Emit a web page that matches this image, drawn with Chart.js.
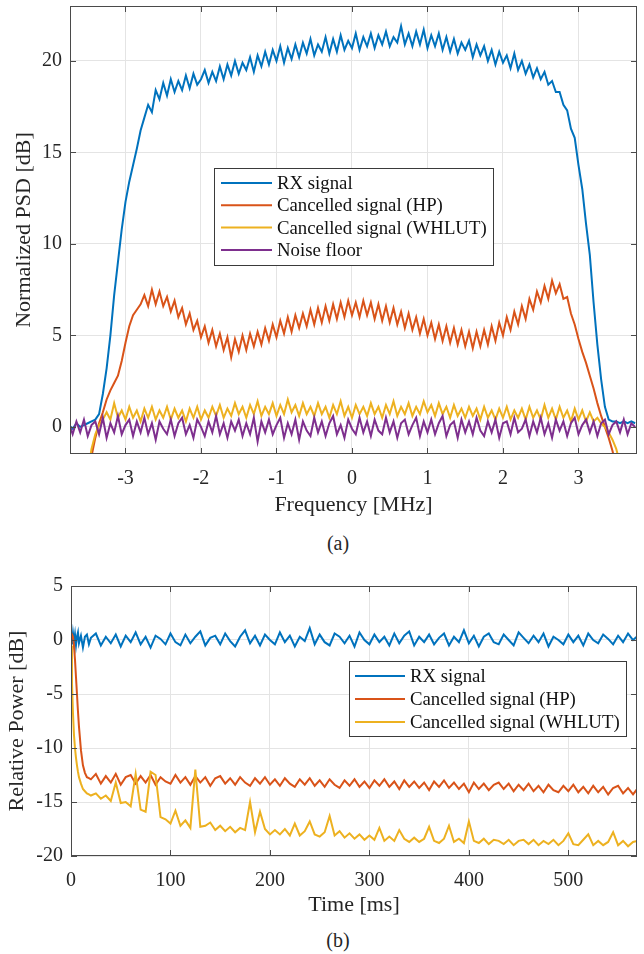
<!DOCTYPE html>
<html>
<head>
<meta charset="utf-8">
<script src="https://cdn.jsdelivr.net/npm/chart.js@4.4.0/dist/chart.umd.min.js"></script>
<style>
  html, body { margin: 0; padding: 0; background: #fff; }
  body { width: 644px; height: 954px; position: relative; overflow: hidden; font-family: "Liberation Serif", "Times New Roman", serif; }
  canvas { position: absolute; left: 0; }
  #psd-chart { top: 0; }
  #power-chart { top: 570px; }
  .caption { position: absolute; left: 308px; width: 60px; text-align: center; font-size: 20px; line-height: 24px; color: #262626; }
</style>
</head>
<body>
<canvas id="psd-chart" width="644" height="520"></canvas>
<div class="caption" style="top: 531px;">(a)</div>
<canvas id="power-chart" width="644" height="350"></canvas>
<div class="caption" style="top: 928px;">(b)</div>

<script>
// (a) PSD vs frequency
const FREQ = [
  -3.75,-3.70,-3.65,-3.60,-3.55,-3.50,-3.45,-3.40,-3.35,-3.30,
  -3.25,-3.20,-3.15,-3.10,-3.05,-3.00,-2.95,-2.90,-2.85,-2.80,
  -2.75,-2.70,-2.65,-2.60,-2.55,-2.50,-2.45,-2.40,-2.35,-2.30,
  -2.25,-2.20,-2.15,-2.10,-2.05,-2.00,-1.95,-1.90,-1.85,-1.80,
  -1.75,-1.70,-1.65,-1.60,-1.55,-1.50,-1.45,-1.40,-1.35,-1.30,
  -1.25,-1.20,-1.15,-1.10,-1.05,-1.00,-0.95,-0.90,-0.85,-0.80,
  -0.75,-0.70,-0.65,-0.60,-0.55,-0.50,-0.45,-0.40,-0.35,-0.30,
  -0.25,-0.20,-0.15,-0.10,-0.05,0.00,0.05,0.10,0.15,0.20,
  0.25,0.30,0.35,0.40,0.45,0.50,0.55,0.60,0.65,0.70,
  0.75,0.80,0.85,0.90,0.95,1.00,1.05,1.10,1.15,1.20,
  1.25,1.30,1.35,1.40,1.45,1.50,1.55,1.60,1.65,1.70,
  1.75,1.80,1.85,1.90,1.95,2.00,2.05,2.10,2.15,2.20,
  2.25,2.30,2.35,2.40,2.45,2.50,2.55,2.60,2.65,2.70,
  2.75,2.80,2.85,2.90,2.95,3.00,3.05,3.10,3.15,3.20,
  3.25,3.30,3.35,3.40,3.45,3.50,3.55,3.60,3.65,3.70,
  3.75
];
const PSD_RX = [
  0.1,-0.1,0.2,0.0,0.1,0.2,0.3,0.4,0.7,1.8,
  3.2,5.0,7.2,9.0,10.8,12.3,13.4,14.3,15.2,16.2,
  16.9,17.6,17.2,18.4,17.9,18.8,18.1,19.0,18.3,18.9,
  18.4,19.2,18.5,19.3,18.7,19.0,19.5,18.8,19.4,18.9,
  19.7,19.0,19.8,19.2,20.0,19.3,19.9,19.5,20.2,19.4,
  20.3,19.7,20.5,19.8,20.6,20.0,20.8,19.9,20.7,20.1,
  20.9,20.2,21.0,20.4,21.2,20.3,20.9,20.5,21.3,20.4,
  21.2,20.5,21.4,20.6,21.1,20.7,21.5,20.6,21.3,20.8,
  21.5,20.7,21.4,20.9,21.6,20.8,21.3,21.0,21.9,20.9,
  21.5,20.8,21.6,20.9,21.7,20.7,21.4,20.8,21.5,20.6,
  21.3,20.5,21.2,20.4,21.0,20.6,21.1,20.2,20.9,20.3,
  20.8,20.0,20.6,19.8,20.5,19.9,20.3,19.6,20.4,19.5,
  20.0,19.3,19.8,19.1,19.6,19.0,19.4,18.7,18.9,18.3,
  18.3,17.6,17.3,16.3,15.8,14.3,13.0,11.1,9.4,6.8,
  4.5,2.6,1.1,0.4,0.3,0.3,0.2,0.3,0.2,0.3,
  0.2
];
const PSD_HP = [
  -3.5,-3.5,-3.5,-3.5,-3.5,-3.5,-1.6,-0.6,0.2,0.8,
  1.5,2.0,2.4,2.8,3.6,4.6,5.5,6.1,6.4,6.7,
  7.2,6.6,7.5,6.7,7.4,6.6,7.1,6.3,6.9,6.0,
  6.5,5.6,6.2,5.3,5.8,4.9,5.5,4.6,5.3,4.4,
  5.1,4.2,4.9,3.8,4.8,4.1,5.0,4.2,5.1,4.4,
  5.2,4.5,5.4,4.7,5.6,4.9,5.8,5.1,6.0,5.2,
  6.1,5.4,6.2,5.5,6.4,5.6,6.5,5.7,6.6,5.8,
  6.7,5.9,6.8,6.0,6.9,6.1,6.8,6.0,6.9,6.1,
  6.8,5.9,6.7,5.8,6.6,5.7,6.5,5.6,6.3,5.4,
  6.2,5.3,6.0,5.1,5.9,5.0,5.7,4.8,5.6,4.7,
  5.5,4.6,5.4,4.5,5.3,4.4,5.2,4.3,5.2,4.4,
  5.3,4.5,5.5,4.7,5.7,5.0,6.0,5.3,6.3,5.6,
  6.6,5.9,7.0,6.4,7.4,6.8,7.7,7.0,8.0,7.3,
  7.8,7.0,7.1,6.2,5.6,4.8,4.1,3.5,2.8,2.1,
  1.3,0.6,0.0,-0.6,-1.3,-2.2,-3.5,-3.5,-3.5,-3.5,
  -3.5
];
const PSD_WHLUT = [
  -3.5,-3.5,-3.5,-3.5,-3.5,-2.5,-1.2,-0.4,0.1,0.4,
  0.8,0.4,1.3,0.5,0.9,0.4,1.1,0.5,0.9,0.3,
  1.0,0.5,1.1,0.4,0.9,0.5,1.1,0.4,1.0,0.5,
  0.9,0.3,1.0,0.5,1.1,0.4,0.9,0.5,1.1,0.6,
  1.2,0.5,1.0,0.6,1.3,0.7,1.1,0.5,1.2,0.7,
  1.4,0.6,1.1,0.7,1.3,0.6,1.2,0.7,1.5,0.8,
  1.2,0.6,1.3,0.7,1.1,0.6,1.3,0.7,1.1,0.5,
  1.2,0.7,1.4,0.6,1.1,0.5,1.2,0.7,1.1,0.6,
  1.3,0.7,1.1,0.5,1.2,0.7,1.4,0.6,1.1,0.7,
  1.3,0.6,1.1,0.7,1.4,0.8,1.2,0.6,1.3,0.7,
  1.1,0.5,1.2,0.6,1.0,0.5,1.1,0.6,1.0,0.4,
  1.1,0.5,0.9,0.4,1.0,0.5,1.1,0.4,0.9,0.5,
  1.0,0.4,1.1,0.5,0.9,0.4,1.2,0.5,1.0,0.4,
  1.1,0.5,0.9,0.3,1.0,0.4,0.9,0.3,0.8,0.3,
  0.5,0.2,0.0,-0.3,-0.7,-1.2,-2.0,-3.5,-3.5,-3.5,
  -3.5
];
const PSD_NOISE = [
  0.2,-0.4,0.3,-0.3,0.4,-0.5,0.1,0.3,-0.4,0.5,
  -0.6,0.2,-0.3,0.6,-0.4,0.1,0.4,-0.5,0.3,-0.3,
  0.5,-0.4,0.2,-0.7,0.3,-0.1,-0.4,0.4,-0.5,0.2,
  0.5,-0.4,0.1,-0.6,0.4,0.0,-0.5,0.3,-0.3,0.6,
  -0.4,0.2,-0.6,0.3,-0.2,0.4,-0.5,0.2,-0.4,0.5,
  -0.8,0.3,-0.3,0.4,-0.4,0.1,0.5,-0.6,0.2,-0.4,
  0.4,-0.7,0.3,-0.2,-0.5,0.5,-0.3,0.3,-0.5,0.2,
  0.6,-0.4,0.1,-0.6,0.4,-0.1,-0.4,0.5,-0.3,0.3,
  -0.5,0.4,-0.2,-0.4,0.5,-0.3,0.3,-0.6,0.2,0.4,
  -0.4,0.1,0.5,-0.5,0.3,-0.3,0.4,-0.4,0.2,0.6,
  -0.5,0.1,0.3,-0.6,0.4,-0.3,0.3,-0.4,0.5,-0.2,
  -0.5,0.3,-0.3,0.4,-0.6,0.2,0.3,-0.4,0.5,-0.3,
  -0.1,0.4,-0.5,0.3,-0.3,0.5,-0.4,0.2,-0.6,0.4,
  -0.2,0.3,-0.5,0.2,0.5,-0.4,0.1,0.4,-0.3,0.3,
  -0.5,0.2,0.4,-0.4,0.1,0.3,-0.3,0.4,-0.4,0.2,
  0.0
];
const FREQ_TICKS = [-3, -2, -1, 0, 1, 2, 3];
const PSD_TICKS = [0, 5, 10, 15, 20];

// (b) relative power vs time
const TIME = [
  0,1,2,3,4,5,6,7,8,10,12,14,16,18,
  20,25,30,35,40,45,50,55,60,65,
  70,75,80,85,90,95,100,105,110,115,
  120,125,130,135,140,145,150,155,160,165,
  170,175,180,185,190,195,200,205,210,215,
  220,225,230,235,240,245,250,255,260,265,
  270,275,280,285,290,295,300,305,310,315,
  320,325,330,335,340,345,350,355,360,365,
  370,375,380,385,390,395,400,405,410,415,
  420,425,430,435,440,445,450,455,460,465,
  470,475,480,485,490,495,500,505,510,515,
  520,525,530,535,540,545,550,555,560,565,
  570
];
const POW_RX = [
  0.4,-0.4,0.6,-0.2,0.5,-0.5,0.3,0.7,-0.3,0.4,-0.7,0.3,0.5,-0.4,
  0.2,0.6,-0.5,0.3,-0.3,0.5,-0.6,0.4,-0.2,0.7,
  -0.4,0.3,-0.7,0.4,0.1,-0.4,0.6,-0.2,-0.5,0.5,
  -0.3,0.3,0.8,-0.5,0.2,0.4,-0.4,0.6,-0.1,-0.6,
  0.3,0.9,-0.3,0.4,-0.5,0.5,0.0,-0.4,0.7,-0.2,
  0.4,-0.6,0.3,-0.1,1.1,-0.4,0.5,-0.2,-0.5,0.6,
  0.3,-0.3,0.4,-0.6,0.7,0.0,-0.4,0.5,-0.2,0.3,
  -0.5,0.6,-0.3,0.4,0.8,-0.5,0.3,-0.2,0.5,-0.4,
  0.2,0.6,-0.5,0.3,-0.2,0.9,-0.3,0.4,-0.6,0.3,
  0.6,-0.2,-0.4,0.5,0.0,-0.5,0.7,0.2,-0.3,0.4,
  -0.2,0.6,-0.6,0.3,0.0,-0.4,0.5,-0.2,0.4,-0.5,
  0.6,0.0,-0.3,0.5,0.1,-0.4,0.4,-0.2,0.6,0.0,
  0.4
];
const POW_HP = [
  0.2,0.5,0.3,-0.5,-1.8,-3.4,-5.0,-6.6,-8.0,-10.2,-11.6,-12.3,-12.7,-12.8,
  -12.9,-12.4,-13.3,-12.6,-13.2,-12.4,-13.4,-12.7,-12.5,-13.3,
  -12.6,-13.2,-12.5,-13.4,-12.7,-13.1,-13.3,-12.5,-13.2,-12.7,
  -13.4,-12.6,-13.2,-12.7,-13.5,-12.8,-12.6,-13.3,-12.8,-13.4,
  -12.7,-13.2,-13.5,-12.8,-13.3,-12.7,-13.4,-12.9,-13.5,-12.8,
  -13.3,-13.6,-12.9,-13.4,-12.8,-13.5,-13.0,-13.6,-12.9,-13.4,
  -13.7,-13.0,-13.5,-12.9,-13.6,-13.1,-13.7,-13.0,-13.5,-12.9,
  -13.6,-13.1,-13.8,-13.0,-13.6,-13.1,-13.7,-13.2,-13.9,-13.1,
  -13.6,-13.0,-13.7,-13.2,-13.8,-13.3,-14.1,-13.2,-13.8,-13.3,
  -13.9,-13.4,-13.2,-13.8,-13.3,-14.0,-13.4,-13.9,-13.3,-14.0,
  -13.5,-14.1,-13.4,-13.9,-14.1,-13.5,-14.0,-13.4,-14.1,-13.6,
  -14.2,-13.5,-14.1,-13.6,-14.3,-13.7,-13.5,-14.2,-13.7,-14.3,
  -13.7
];
const POW_WHLUT = [
  -0.5,-4.0,-6.8,-8.8,-10.0,-10.9,-11.6,-12.2,-12.7,-13.3,-13.8,-14.0,-14.2,-14.3,
  -14.4,-14.2,-14.7,-14.4,-14.9,-13.2,-15.1,-15.0,-15.4,-12.4,
  -15.7,-15.9,-12.2,-12.5,-16.4,-16.6,-17.0,-15.8,-17.2,-16.7,
  -17.4,-12.0,-17.3,-17.2,-16.9,-17.6,-17.2,-17.7,-17.3,-17.8,
  -17.4,-17.6,-15.0,-17.8,-15.9,-17.5,-18.0,-17.6,-18.0,-17.5,
  -18.1,-17.0,-18.1,-17.7,-16.8,-18.0,-18.2,-17.8,-16.3,-18.1,
  -17.7,-18.3,-17.9,-18.4,-18.0,-18.5,-18.1,-18.5,-17.4,-18.6,
  -18.2,-18.6,-17.6,-18.4,-18.7,-18.3,-18.7,-18.4,-17.3,-18.6,
  -18.8,-18.4,-17.2,-18.7,-18.4,-18.8,-16.8,-18.6,-18.8,-18.4,
  -18.9,-18.5,-18.6,-18.9,-18.5,-19.0,-18.6,-18.5,-18.9,-18.5,
  -19.0,-18.6,-18.9,-18.5,-19.0,-18.6,-17.9,-18.9,-19.0,-18.5,
  -18.0,-19.0,-18.6,-19.0,-18.7,-17.8,-19.0,-18.6,-19.1,-18.7,
  -18.6
];
const TIME_TICKS = [0, 100, 200, 300, 400, 500];
const POW_TICKS = [-20, -15, -10, -5, 0, 5];

const COLORS = ['#0072BD', '#D95319', '#EDB120', '#7E2F8E'];
const FONT = '"Liberation Serif", "Times New Roman", serif';
const INK = '#262626';

document.addEventListener('DOMContentLoaded', function() {

  function toPoints(xs, ys) {
    return xs.map((x, i) => ({ x: x, y: ys[i] }));
  }

  function makeDataset(label, xs, ys, color, order) {
    return {
      label: label,
      data: toPoints(xs, ys),
      borderColor: color,
      backgroundColor: color,
      borderWidth: 2,
      pointRadius: 0,
      tension: 0,
      order: order
    };
  }

  // Box, inward ticks and an inset legend, MATLAB style
  function framePlugin(legend) {
    return {
      id: 'frame',
      afterDatasetsDraw(chart) {
        const { ctx, chartArea: a, scales } = chart;
        ctx.save();
        ctx.strokeStyle = '#4a4a4a';
        ctx.lineWidth = 1;
        ctx.strokeRect(a.left + 0.5, a.top + 0.5, a.right - a.left - 1, a.bottom - a.top - 1);

        ctx.beginPath();
        scales.x.ticks.forEach(t => {
          const px = Math.round(scales.x.getPixelForValue(t.value)) + 0.5;
          ctx.moveTo(px, a.bottom); ctx.lineTo(px, a.bottom - 6);
          ctx.moveTo(px, a.top); ctx.lineTo(px, a.top + 6);
        });
        scales.y.ticks.forEach(t => {
          const py = Math.round(scales.y.getPixelForValue(t.value)) + 0.5;
          ctx.moveTo(a.left, py); ctx.lineTo(a.left + 6, py);
          ctx.moveTo(a.right, py); ctx.lineTo(a.right - 6, py);
        });
        ctx.stroke();

        // legend
        ctx.fillStyle = '#fff';
        ctx.fillRect(legend.x, legend.y, legend.w, legend.h);
        ctx.strokeStyle = '#3a3a3a';
        ctx.strokeRect(legend.x + 0.5, legend.y + 0.5, legend.w, legend.h);
        ctx.font = legend.fontSize + 'px ' + FONT;
        ctx.textBaseline = 'middle';
        ctx.textAlign = 'left';
        chart.data.datasets.forEach((ds, i) => {
          const cy = legend.y + legend.first + i * legend.rowH;
          ctx.strokeStyle = ds.borderColor;
          ctx.lineWidth = 2;
          ctx.beginPath();
          ctx.moveTo(legend.x + legend.lineStart, cy);
          ctx.lineTo(legend.x + legend.lineEnd, cy);
          ctx.stroke();
          ctx.fillStyle = '#111';
          ctx.fillText(ds.label, legend.x + legend.textX, cy + 1);
        });
        ctx.restore();
      }
    };
  }

  function axisOptions(cfg) {
    return {
      x: {
        type: 'linear',
        min: cfg.xMin,
        max: cfg.xMax,
        afterBuildTicks: scale => { scale.ticks = cfg.xTicks.map(v => ({ value: v })); },
        afterFit: scale => { scale.height = cfg.xHeight; scale.paddingLeft = 0; scale.paddingRight = 0; },
        grid: { color: '#e4e4e4', drawTicks: false },
        border: { display: false },
        ticks: { color: INK, font: { family: FONT, size: 20 }, padding: 13, maxRotation: 0 },
        title: { display: true, text: cfg.xTitle, color: INK, font: { family: FONT, size: 22 }, padding: { top: 0, bottom: 2 } }
      },
      y: {
        type: 'linear',
        min: cfg.yMin,
        max: cfg.yMax,
        afterBuildTicks: scale => { scale.ticks = cfg.yTicks.map(v => ({ value: v })); },
        afterFit: scale => { scale.width = cfg.yWidth; scale.paddingTop = 0; scale.paddingBottom = 0; },
        grid: { color: '#e4e4e4', drawTicks: false },
        border: { display: false },
        ticks: { color: INK, font: { family: FONT, size: 20 }, padding: 8 },
        title: { display: true, text: cfg.yTitle, color: INK, font: { family: FONT, size: 22 }, padding: { top: cfg.yTitlePad, bottom: 0 } }
      }
    };
  }

  const baseOptions = {
    responsive: false,
    animation: false,
    events: [],
    plugins: { legend: { display: false }, tooltip: { enabled: false } }
  };

  // Chart (a)
  new Chart(document.getElementById('psd-chart').getContext('2d'), {
    type: 'line',
    data: {
      datasets: [
        makeDataset('RX signal', FREQ, PSD_RX, COLORS[0], 4),
        makeDataset('Cancelled signal (HP)', FREQ, PSD_HP, COLORS[1], 3),
        makeDataset('Cancelled signal (WHLUT)', FREQ, PSD_WHLUT, COLORS[2], 2),
        makeDataset('Noise floor', FREQ, PSD_NOISE, COLORS[3], 1)
      ]
    },
    options: Object.assign({}, baseOptions, {
      layout: { padding: { top: 6, right: 7, left: 0, bottom: 0 } },
      scales: axisOptions({
        xMin: -3.735, xMax: 3.775, xTicks: FREQ_TICKS, xHeight: 66, xTitle: 'Frequency [MHz]',
        yMin: -1.48, yMax: 23.0, yTicks: PSD_TICKS, yWidth: 70, yTitle: 'Normalized PSD [dB]', yTitlePad: 11
      })
    }),
    plugins: [framePlugin({ x: 214, y: 168, w: 279, h: 97, first: 15, rowH: 22.3, lineStart: 7, lineEnd: 58, textX: 63, fontSize: 18.8 })]
  });

  // Chart (b)
  new Chart(document.getElementById('power-chart').getContext('2d'), {
    type: 'line',
    data: {
      datasets: [
        makeDataset('RX signal', TIME, POW_RX, COLORS[0], 3),
        makeDataset('Cancelled signal (HP)', TIME, POW_HP, COLORS[1], 2),
        makeDataset('Cancelled signal (WHLUT)', TIME, POW_WHLUT, COLORS[2], 1)
      ]
    },
    options: Object.assign({}, baseOptions, {
      layout: { padding: { top: 16, right: 7, left: 0, bottom: 0 } },
      scales: axisOptions({
        xMin: 0, xMax: 569, xTicks: TIME_TICKS, xHeight: 64, xTitle: 'Time [ms]',
        yMin: -20, yMax: 5, yTicks: POW_TICKS, yWidth: 71, yTitle: 'Relative Power [dB]', yTitlePad: 4
      })
    }),
    plugins: [framePlugin({ x: 349, y: 91, w: 277, h: 75, first: 15, rowH: 23, lineStart: 6, lineEnd: 56, textX: 61, fontSize: 18.8 })]
  });
});
</script>
</body>
</html>
